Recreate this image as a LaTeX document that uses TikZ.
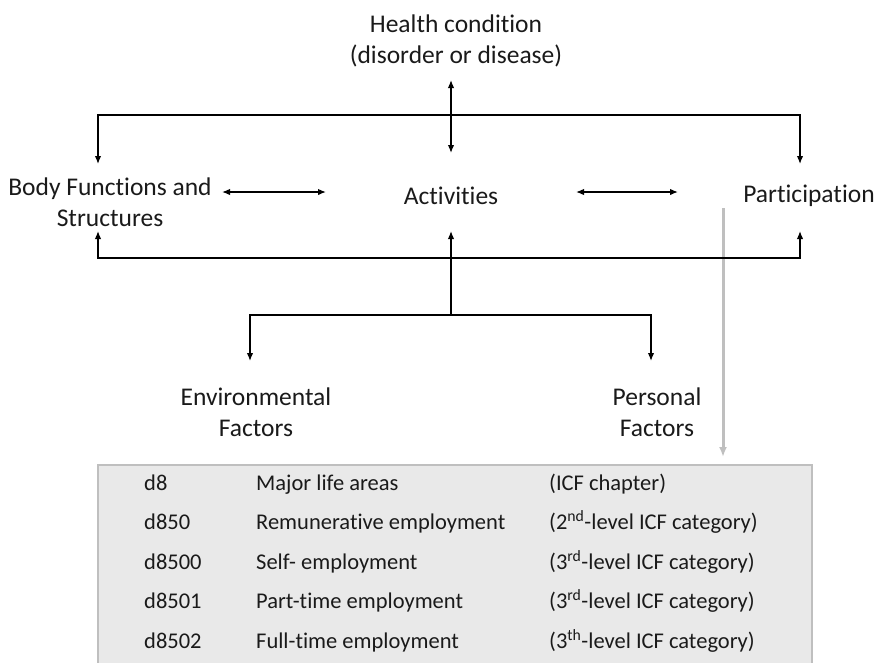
\documentclass[tikz,border=0pt]{standalone}
\usepackage{fontspec}
\setmainfont[Ligatures=NoCommon]{Carlito}
\usetikzlibrary{arrows.meta}
\definecolor{txt}{HTML}{1A1A1A}
\definecolor{tblfill}{HTML}{E9E9E9}
\definecolor{tbldraw}{HTML}{BFBFBF}
\definecolor{garrow}{HTML}{BFBFBF}
\tikzset{
  lbl/.style={font=\fontsize{25.5}{31}\selectfont, text=txt, align=center, inner sep=0pt},
  cell/.style={font=\fontsize{22.5}{26}\selectfont, text=txt, anchor=mid west, inner sep=0pt},
  conn/.style={line width=1.4pt, black, {Latex[length=8pt,width=6.5pt]}-{Latex[length=8pt,width=6.5pt]}},
  oneway/.style={line width=1.4pt, black, -{Latex[length=8pt,width=6.5pt]}},
  grayarrow/.style={line width=3pt, garrow, -{Latex[length=10pt,width=8pt]}}
}
\begin{document}
\begin{tikzpicture}[x=1pt,y=-1pt]
\useasboundingbox (0,0) rectangle (877,662);
% table background
\path[fill=tblfill, draw=tbldraw, line width=1.2pt] (98,465) rectangle (812,672);
\node[cell] (r1a) at (144,488) {d8};
\node[cell] (r1b) at (256,488) {Major life areas};
\node[cell] (r1c) at (549,488) {(ICF chapter)};
\node[cell] (r2a) at (144,527) {d850};
\node[cell] (r2b) at (256,527) {Remunerative employment};
\node[cell] (r2c) at (549,527) {(2\textsuperscript{nd}-level ICF category)};
\node[cell] (r3a) at (144,567) {d8500};
\node[cell] (r3b) at (256,567) {Self- employment};
\node[cell] (r3c) at (549,567) {(3\textsuperscript{rd}-level ICF category)};
\node[cell] (r4a) at (144,606) {d8501};
\node[cell] (r4b) at (256,606) {Part-time employment};
\node[cell] (r4c) at (549,606) {(3\textsuperscript{rd}-level ICF category)};
\node[cell] (r5a) at (144,646) {d8502};
\node[cell] (r5b) at (256,646) {Full-time employment};
\node[cell] (r5c) at (549,646) {(3\textsuperscript{th}-level ICF category)};

% labels
\node[lbl] (health) at (456,41) {Health condition\\(disorder or disease)};
\node[lbl] (body) at (110,202) {Body Functions and\\Structures};
\node[lbl] (act) at (451,196) {Activities};
\node[lbl] (part) at (809,196) {Participation};
\node[lbl] (env) at (256,412) {Environmental\\Factors};
\node[lbl] (pers) at (657,412) {Personal\\Factors};

% coordinates
\coordinate (hTop) at (451,80);
\coordinate (hBot) at (451,153);
\coordinate (bTop) at (98,164);
\coordinate (pTop) at (800,164);
\coordinate (bBot) at (98,231);
\coordinate (pBot) at (800,231);
\coordinate (aBot) at (451,231);
\coordinate (fork) at (451,315);
\coordinate (eTop) at (250,361);
\coordinate (peTop) at (651,361);
\coordinate (ba1) at (222,192);
\coordinate (ba2) at (326,192);
\coordinate (ap1) at (576,192);
\coordinate (ap2) at (678,192);
\coordinate (gStart) at (723,208);
\coordinate (gEnd) at (723,457);

% connectors
\draw[grayarrow] (gStart) -- (gEnd);
\draw[conn] (hTop) -- (hBot);
\draw[conn] (bTop) -- (bTop |- 0,115) -- (pTop |- 0,115) -- (pTop);
\draw[conn] (bBot) -- (bBot |- 0,258) -- (pBot |- 0,258) -- (pBot);
\draw[oneway] (fork) -- (aBot);
\draw[conn] (eTop) -- (eTop |- fork) -- (peTop |- fork) -- (peTop);
\draw[conn] (ba1) -- (ba2);
\draw[conn] (ap1) -- (ap2);
\end{tikzpicture}
\end{document}
